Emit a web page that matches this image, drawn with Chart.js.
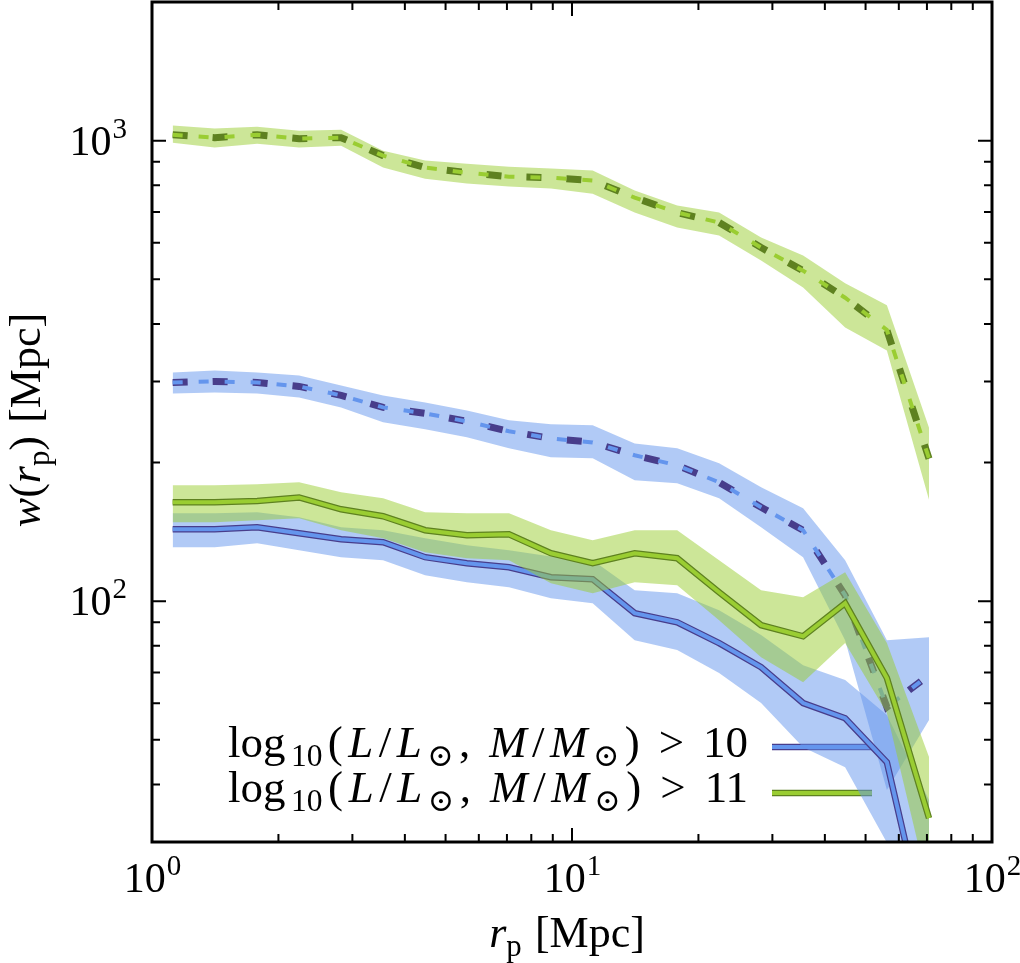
<!DOCTYPE html>
<html lang="en">
<head>
  <meta charset="UTF-8">
  <title>w(rp)</title>
  <script src="https://cdn.jsdelivr.net/npm/chart.js"></script>
  <style>
    html, body { margin: 0; padding: 0; background: #fff; }
    canvas { display: block; }
  </style>
</head>
<body>

  <canvas id="wrpChart" width="1020" height="963"></canvas>

  <script>
    // projected separation bins [Mpc]
    var rp = [1.12, 1.41, 1.78, 2.24, 2.82, 3.55, 4.47, 5.62, 7.08, 8.91, 11.2, 14.1, 17.8, 22.4, 28.2, 35.5, 44.7, 56.2, 70.8];

    // > 10, dashed
    var wDash10   = [298.5, 300.1, 298.5, 292.6, 279.8, 263.5, 255.7, 245.7, 233.8, 225.7, 221.2, 207.4, 197.2, 181.2, 159.9, 142.6, 103.0, 58.9, 69.1];
    var wDash10Hi = [313.9, 317.0, 313.9, 309.2, 294.1, 279.8, 270.2, 259.6, 247.0, 242.1, 240.9, 220.1, 214.7, 199.3, 176.7, 159.2, 122.7, 82.3, 83.5];
    var wDash10Lo = [282.6, 284.0, 282.6, 277.0, 263.5, 244.5, 236.1, 226.9, 214.7, 205.3, 204.3, 183.0, 180.3, 167.3, 144.7, 124.6, 82.3, 38.9, 55.2];

    // > 10, solid
    var wSolid10   = [143.3, 143.3, 144.7, 140.4, 136.3, 134.3, 124.6, 120.9, 118.5, 112.7, 111.6, 94.2, 90.0, 81.1, 71.9, 60.1, 55.7, 44.7, 18.0];
    var wSolid10Hi = [155.2, 155.2, 156.0, 152.1, 144.7, 142.6, 137.0, 132.3, 129.0, 125.0, 122.7, 105.6, 104.1, 95.6, 84.4, 72.6, 67.4, 56.6, 37.0];
    var wSolid10Lo = [130.9, 130.9, 133.6, 129.0, 124.6, 122.7, 113.9, 110.0, 107.2, 101.5, 99.0, 82.3, 78.3, 69.8, 60.1, 48.2, 43.6, 29.9, 8.3];

    // > 11, dashed
    var wDash11   = [1030, 1015, 1030, 1010, 1015, 928, 874, 852, 835, 831, 819, 752, 698, 664, 586, 522, 456, 388, 204];
    var wDash11Hi = [1078, 1062, 1072, 1051, 1056, 951, 905, 891, 878, 870, 861, 779, 723, 698, 616, 563, 490, 439, 238];
    var wDash11Lo = [990, 966, 985, 966, 975, 874, 827, 807, 795, 787, 767, 698, 648, 622, 549, 480, 393, 350, 166];

    // > 11, solid
    var wSolid11   = [164.0, 164.0, 165.0, 168.0, 158.3, 152.9, 142.6, 139.0, 139.7, 127.1, 120.9, 127.1, 124.0, 104.6, 88.7, 83.9, 99.0, 68.1, 33.8];
    var wSolid11Hi = [178.6, 178.6, 179.5, 181.2, 172.4, 167.3, 156.0, 155.2, 155.2, 142.6, 135.6, 142.6, 142.6, 122.7, 105.6, 102.0, 115.6, 81.1, 45.9];
    var wSolid11Lo = [148.4, 148.4, 149.9, 151.4, 142.6, 137.0, 127.7, 124.0, 122.7, 109.4, 104.1, 110.0, 108.3, 90.9, 75.6, 66.7, 81.1, 57.2, 23.6];

    var legendThresholds = ['10', '11'];
    var xTickValues = [1, 10, 100];
    var yTickValues = [100, 1000];

    var BLUE = '#6495ed', BLUE_DARK = '#483d8b', BLUE_FILL = 'rgba(100,149,237,0.5)';
    var GREEN = '#9acd32', GREEN_DARK = '#5e8120', GREEN_FILL = 'rgba(154,205,50,0.5)';
    var SERIF = '"Liberation Serif", "DejaVu Serif", serif';

    function pts(arr) {
      return rp.map(function(x, i) { return {x: x, y: arr[i]}; });
    }

    var datasets = [];
    var order = 100;

    function addBand(hi, lo, color) {
      datasets.push({data: pts(hi), borderColor: 'rgba(0,0,0,0)', borderWidth: 0, pointRadius: 0, fill: false, order: order});
      datasets.push({data: pts(lo), borderColor: 'rgba(0,0,0,0)', borderWidth: 0, pointRadius: 0, fill: '-1', backgroundColor: color, order: order});
      order--;
    }

    function addLine(vals, color, width, dash) {
      datasets.push({
        data: pts(vals), borderColor: color, borderWidth: width, borderDash: dash || [],
        borderCapStyle: 'butt', pointRadius: 0, fill: false, tension: 0, order: order
      });
      order--;
    }

    addBand(wDash10Hi, wDash10Lo, BLUE_FILL);
    addLine(wDash10, BLUE_DARK, 7, [15, 25]);
    addLine(wDash10, BLUE, 4, [10, 16]);
    addBand(wSolid10Hi, wSolid10Lo, BLUE_FILL);
    addLine(wSolid10, BLUE_DARK, 6.5);
    addLine(wSolid10, BLUE, 4);
    addBand(wDash11Hi, wDash11Lo, GREEN_FILL);
    addLine(wDash11, GREEN_DARK, 7, [15, 25]);
    addLine(wDash11, GREEN, 4, [10, 16]);
    addBand(wSolid11Hi, wSolid11Lo, GREEN_FILL);
    addLine(wSolid11, GREEN_DARK, 6.5);
    addLine(wSolid11, GREEN, 4);

    function setFont(ctx, p, size) {
      ctx.font = (p.it ? 'italic ' : '') + (p.sub ? size * 0.7 : size) + 'px ' + SERIF;
    }

    // draws a run of pieces (roman / italic / subscript); if endX is given the
    // leftover room is spread between the glyph pieces
    function drawPieces(ctx, pieces, x, y, size, endX) {
      var gapW = size * 0.3;
      var widths = [], total = 0, joins = 0;
      pieces.forEach(function(p, i) {
        if (p.gap) { widths.push(gapW); total += gapW; return; }
        setFont(ctx, p, size);
        var w = ctx.measureText(p.t).width;
        widths.push(w);
        total += w;
        if (i < pieces.length - 1) joins++;
      });
      var spread = endX ? Math.max(0, (endX - x - total) / joins) : 0;
      var cx = x;
      pieces.forEach(function(p, i) {
        if (p.gap) { cx += gapW; return; }
        setFont(ctx, p, size);
        ctx.fillText(p.t, cx, y + (p.sub ? size * 0.2 : 0));
        cx += widths[i] + (i < pieces.length - 1 ? spread : 0);
      });
      return cx;
    }

    function piecesWidth(ctx, pieces, size) {
      var total = 0;
      pieces.forEach(function(p) {
        if (p.gap) { total += size * 0.3; return; }
        setFont(ctx, p, size);
        total += ctx.measureText(p.t).width;
      });
      return total;
    }

    function drawPow(ctx, exp, x, y, align) {
      ctx.font = '42px ' + SERIF;
      var wb = ctx.measureText('10').width;
      ctx.font = '29px ' + SERIF;
      var we = ctx.measureText(String(exp)).width;
      var start = align === 'right' ? x - wb - we : x - (wb + we) / 2;
      ctx.font = '42px ' + SERIF;
      ctx.fillText('10', start, y);
      ctx.font = '29px ' + SERIF;
      ctx.fillText(String(exp), start + wb + 1, y - 17);
    }

    function minorValues(min, max) {
      var out = [];
      for (var d = Math.pow(10, Math.floor(Math.log10(min))); d < max; d *= 10) {
        for (var k = 2; k <= 9; k++) {
          var v = k * d;
          if (v > min && v < max) out.push(v);
        }
      }
      return out;
    }

    var decorPlugin = {
      id: 'decor',
      beforeDatasetsDraw: function(chart) {
        var ctx = chart.ctx;
        ctx.save();
        ctx.fillStyle = '#000';
        ctx.textAlign = 'left';
        ctx.textBaseline = 'alphabetic';
        var colors = [[BLUE_DARK, BLUE], [GREEN_DARK, GREEN]];
        legendThresholds.forEach(function(th, i) {
          var base = 757 + i * 45;
          drawPieces(ctx, [
            {t: 'log'}, {t: '10', sub: true}, {t: '('}, {t: 'L', it: true}, {t: '/'}, {t: 'L', it: true},
            {t: '\u2299', sub: true}, {t: ','}, {gap: 1}, {t: 'M', it: true}, {t: '/'}, {t: 'M', it: true},
            {t: '\u2299', sub: true}, {t: ')'}, {gap: 1}, {t: '>'}, {gap: 1}, {t: th}
          ], 228, base, 45, 748);
          var ly = 747 + i * 46;
          ctx.lineCap = 'butt';
          ctx.strokeStyle = colors[i][0];
          ctx.lineWidth = 6.5;
          ctx.beginPath(); ctx.moveTo(772, ly); ctx.lineTo(872, ly); ctx.stroke();
          ctx.strokeStyle = colors[i][1];
          ctx.lineWidth = 4;
          ctx.beginPath(); ctx.moveTo(772, ly); ctx.lineTo(872, ly); ctx.stroke();
        });
        ctx.restore();
      },
      afterDraw: function(chart) {
        var ctx = chart.ctx;
        var a = chart.chartArea;
        var xs = chart.scales.x, ys = chart.scales.y;
        ctx.save();
        ctx.strokeStyle = '#000';
        ctx.fillStyle = '#000';

        // inward ticks on all four sides
        ctx.lineWidth = 2;
        function xTick(v, len) {
          var px = xs.getPixelForValue(v);
          ctx.beginPath();
          ctx.moveTo(px, a.bottom); ctx.lineTo(px, a.bottom - len);
          ctx.moveTo(px, a.top); ctx.lineTo(px, a.top + len);
          ctx.stroke();
        }
        function yTick(v, len) {
          var py = ys.getPixelForValue(v);
          ctx.beginPath();
          ctx.moveTo(a.left, py); ctx.lineTo(a.left + len, py);
          ctx.moveTo(a.right, py); ctx.lineTo(a.right - len, py);
          ctx.stroke();
        }
        xTickValues.forEach(function(v) { xTick(v, 14); });
        minorValues(xs.min, xs.max).forEach(function(v) { xTick(v, 8); });
        yTickValues.forEach(function(v) { yTick(v, 14); });
        minorValues(ys.min, ys.max).forEach(function(v) { yTick(v, 8); });

        ctx.lineWidth = 3;
        ctx.strokeRect(a.left, a.top, a.right - a.left, a.bottom - a.top);

        // tick labels
        ctx.textAlign = 'left';
        ctx.textBaseline = 'alphabetic';
        xTickValues.forEach(function(v) {
          drawPow(ctx, Math.round(Math.log10(v)), xs.getPixelForValue(v), 892, 'center');
        });
        yTickValues.forEach(function(v) {
          drawPow(ctx, Math.round(Math.log10(v)), 126, ys.getPixelForValue(v) + 14, 'right');
        });

        // axis titles
        var xt = [{t: 'r', it: true}, {t: 'p', sub: true}, {gap: 1}, {t: '[Mpc]'}];
        var w = piecesWidth(ctx, xt, 44);
        drawPieces(ctx, xt, 567 - w / 2, 947, 44);

        var yt = [{t: 'w', it: true}, {t: '('}, {t: 'r', it: true}, {t: 'p', sub: true}, {t: ')'}, {gap: 1}, {t: '[Mpc]'}];
        var wy = piecesWidth(ctx, yt, 44);
        ctx.translate(40, 420);
        ctx.rotate(-Math.PI / 2);
        drawPieces(ctx, yt, -wy / 2, 0, 44);
        ctx.restore();
      }
    };

    new Chart(document.getElementById('wrpChart').getContext('2d'), {
      type: 'line',
      data: { datasets: datasets },
      options: {
        responsive: false,
        animation: false,
        layout: { padding: { left: 0, right: 28, top: 2, bottom: 0 } },
        plugins: { legend: { display: false }, tooltip: { enabled: false } },
        scales: {
          x: {
            type: 'logarithmic', min: 1, max: 100,
            grid: { display: false }, border: { display: false }, ticks: { display: false },
            afterFit: function(s) { s.height = 121; }
          },
          y: {
            type: 'logarithmic', min: 30, max: 2000,
            grid: { display: false }, border: { display: false }, ticks: { display: false },
            afterFit: function(s) { s.width = 152; }
          }
        }
      },
      plugins: [decorPlugin]
    });
  </script>

</body>
</html>
